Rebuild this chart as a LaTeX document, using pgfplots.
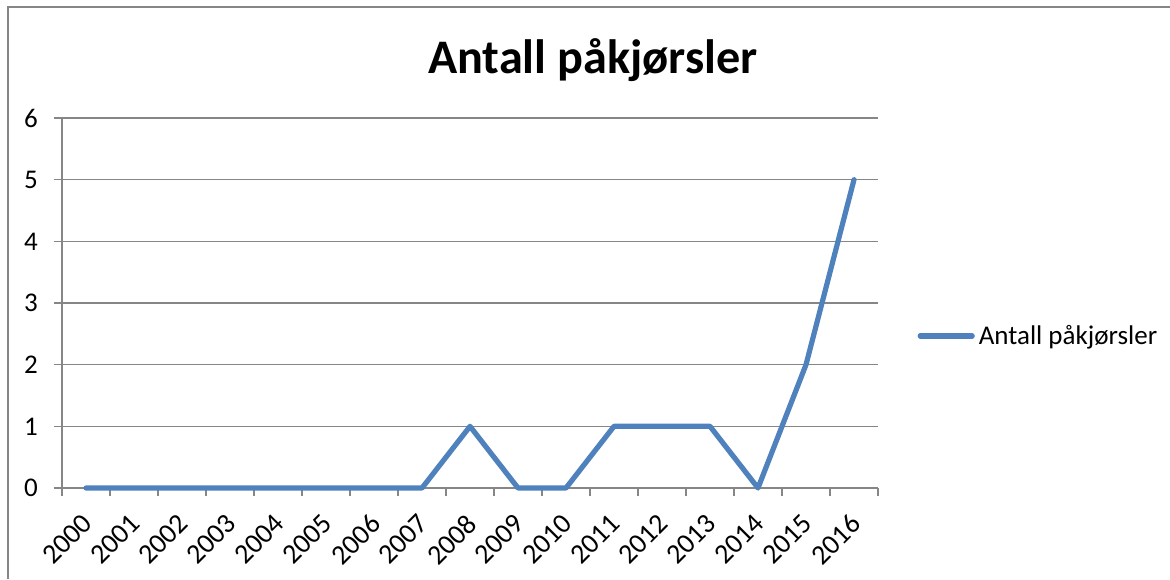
\documentclass[border=0pt]{standalone}
\usepackage{fontspec}
\setmainfont{Carlito}
\usepackage{pgfplots}
\pgfplotsset{compat=1.18}
\definecolor{XlBlue}{HTML}{4F81BD}
\definecolor{XlGray}{HTML}{868686}

\begin{document}
\begin{tikzpicture}[x=1pt,y=1pt]
% 1 px of the reference = 0.5pt
\path[use as bounding box] (0,0) rectangle (585,289.5);
\draw[XlGray,line width=0.8pt] (4,0) -- (4,286) -- (585,286);
\node[font=\bfseries\fontsize{24.1}{27}\selectfont] at (296.5,259.5) {Antall påkjørsler};
\begin{axis}[
  at={(31pt,45.5pt)}, anchor=south west,
  scale only axis, width=408pt, height=185pt,
  xmin=-0.5, xmax=16.5, ymin=0, ymax=6,
  axis line style={XlGray,line width=0.8pt},
  axis x line*=bottom, axis y line*=left,
  ytick={0,...,6}, ymajorgrids,
  major grid style={XlGray,line width=0.8pt},
  xtick={0,...,16},
  xticklabels={2000,2001,2002,2003,2004,2005,2006,2007,2008,2009,2010,2011,2012,2013,2014,2015,2016},
  major x tick style={draw=none},
  minor xtick={-0.5,0.5,...,16.5},
  minor tick length=4pt, major tick length=4pt,
  tick align=outside,
  tick style={XlGray,line width=0.8pt},
  /pgf/number format/assume math mode=true,
  xticklabel style={font=\fontsize{14}{16}\selectfont, xshift=-2.5pt, yshift=-8pt, rotate=45, anchor=north east, inner sep=0pt},
  yticklabel style={font=\fontsize{13.5}{15}\selectfont, xshift=-4.5pt},
  legend style={draw=none, fill=none, at={(1.048,0.411)}, anchor=west,
    font=\fontsize{13.5}{15}\selectfont, inner sep=0pt},
  legend cell align=left,
  legend image code/.code={\draw[#1] (0pt,0pt) -- (26pt,0pt);},
  clip=false,
]
\addplot[XlBlue, line width=2.6pt, line cap=round, line join=round] coordinates {
  (0,0) (1,0) (2,0) (3,0) (4,0) (5,0) (6,0) (7,0) (8,1)
  (9,0) (10,0) (11,1) (12,1) (13,1) (14,0) (15,2) (16,5)};
\addlegendentry{Antall påkjørsler}
\end{axis}
\end{tikzpicture}
\end{document}
